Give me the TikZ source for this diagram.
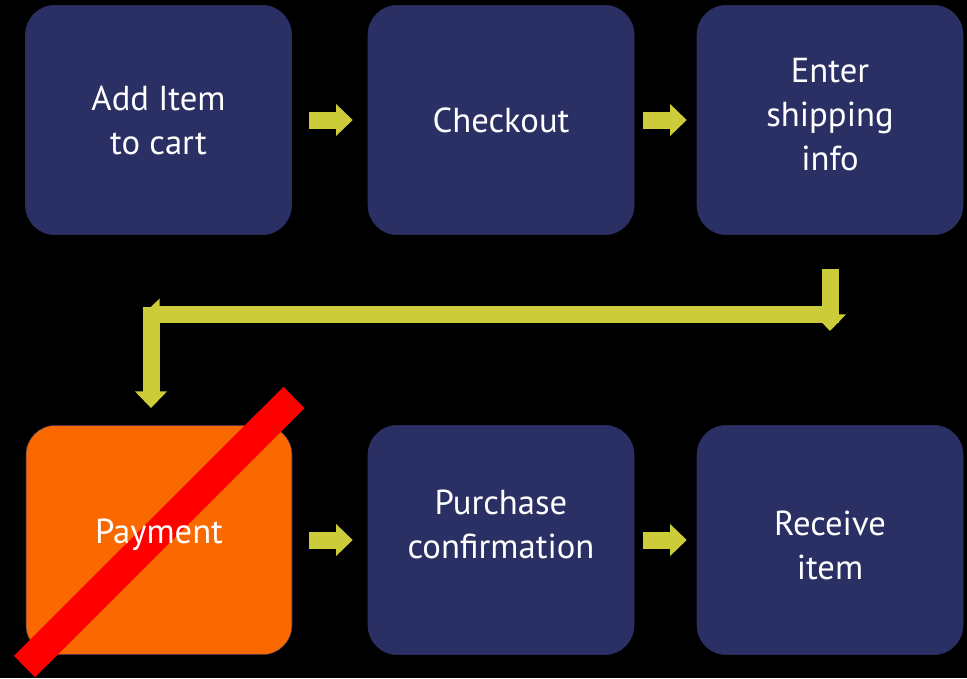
\documentclass[tikz,border=0pt]{standalone}
\usepackage{fontspec}
\setmainfont{PT Sans}
\usepackage{xcolor}
\usetikzlibrary{arrows.meta}

\definecolor{stepnavy}{RGB}{43,48,100}
\definecolor{payorange}{RGB}{249,105,0}
\definecolor{arrowlime}{RGB}{204,204,58}

% struts to nudge text inside the boxes
\newcommand{\deepstrut}[1]{\rule[-#1]{0pt}{#1}}
\newcommand{\tallstrut}[1]{\rule{0pt}{#1}}

\begin{document}
\begin{tikzpicture}[x=0.75pt, y=-0.75pt,
    every node/.style={font=\fontsize{26}{33}\selectfont, text=white, align=center},
    stepbox/.style={draw=stepnavy, fill=stepnavy, rounded corners=22pt, minimum width=199.5pt, minimum height=172pt, inner sep=0pt},
    flowarrow/.style={draw=arrowlime, line width=12.75pt, -{Triangle[length=12.5pt, width=23.25pt]}}]
    % background
    \fill[black] (0,0) rectangle (967,678);
    \useasboundingbox (0,0) rectangle (967,678);

    % Top row
    \node[stepbox] (add) at (158.5,120) {Add Item\\to cart};
    \node[stepbox] (checkout) at (501,120) {Checkout};
    \node[stepbox] (ship) at (830,120) {Enter\\shipping\\info\deepstrut{9pt}};

    % Bottom row
    \node[stepbox, fill=payorange] (pay) at (159,540) {};
    \node[stepbox] (confirm) at (501,540) {Purchase\\confirmation\deepstrut{24pt}};
    \node[stepbox] (receive) at (830,540) {\tallstrut{26pt}Receive\\item};

    % Turn points
    \coordinate (dropR) at (830,331);
    \coordinate (barR) at (839,314.5);
    \coordinate (barL) at (143,314.5);
    \coordinate (cornerL) at (151,307);

    % Arrows
    \draw[flowarrow, shorten <=12.75pt, shorten >=11.25pt] (add) -- (checkout);
    \draw[flowarrow, shorten <=6.75pt, shorten >=7.5pt] (checkout) -- (ship);
    \draw[flowarrow] (barR) -- (barL);
    \draw[flowarrow, shorten <=25.5pt] (ship.south) -- (dropR);
    \draw[flowarrow, shorten >=12.75pt] (cornerL) -- (pay.north -| cornerL);
    \draw[flowarrow, shorten <=12.75pt, shorten >=11.25pt] (pay) -- (confirm);
    \draw[flowarrow, shorten <=6.75pt, shorten >=7.5pt] (confirm) -- (receive);

    % Strike through payment, label on top
    \draw[red, line width=22.5pt] (24.5,666.5) -- (294,397.5);
    \node (paytext) at (159,535) {Payment};
\end{tikzpicture}
\end{document}
